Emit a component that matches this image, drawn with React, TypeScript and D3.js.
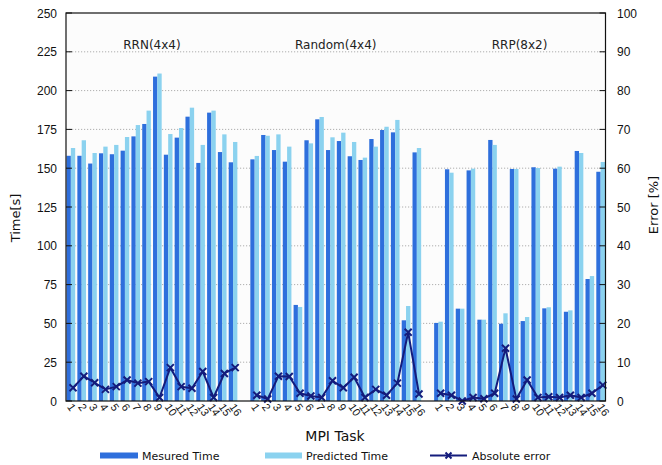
import * as d3 from 'd3';
import React from 'react';

// three mapping strategies, 16 MPI tasks each
const groups = ['RRN(4x4)', 'Random(4x4)', 'RRP(8x2)'];
const tasks = d3.range(1, 17).map(String);

const measuredRRN = [158, 158, 153, 159.6, 159, 161.3, 170.5, 178.5, 209, 158.7, 169.7, 183.2, 153.4, 185.8, 160.4, 153.8];
const predictedRRN = [163, 168, 159.8, 163.9, 165, 170.1, 177.8, 187.1, 211, 172, 175.9, 189, 165, 187.1, 171.8, 166.9];
const errorRRN = [3.4, 6.4, 4.7, 3.0, 3.7, 5.4, 4.6, 5.0, 0.9, 8.6, 3.7, 3.3, 7.6, 0.9, 7.1, 8.6];

const measuredRandom = [155.7, 171.4, 161.7, 154.2, 61.9, 168, 181.5, 161.7, 167.5, 157.7, 155.3, 168.8, 174.6, 173.1, 52, 160.2];
const predictedRandom = [157.9, 170.9, 171.8, 163.9, 60.6, 166, 183, 169.9, 172.9, 166.9, 156.8, 163.9, 176.7, 181.1, 61.2, 163];
const errorRandom = [1.5, 0.5, 6.4, 6.3, 2.0, 1.3, 0.9, 5.2, 3.4, 6.1, 0.9, 3.0, 1.5, 4.6, 17.7, 1.8];

const measuredRRP = [50.3, 149.3, 59.5, 148.6, 52.4, 168.2, 49.8, 149.5, 51.5, 150.6, 59.7, 149.7, 57.5, 161.1, 78.6, 147.7];
const predictedRRP = [51.1, 147.1, 59.5, 149.7, 52.4, 165, 56.5, 149.5, 54.1, 150.1, 60.4, 151, 58.4, 159.8, 80.5, 154];
const errorRRP = [2.0, 1.5, 0.0, 0.9, 0.6, 2.0, 13.6, 0.5, 5.4, 0.9, 1.1, 0.9, 1.5, 0.9, 2.0, 4.1];

const timeTicks = d3.range(0, 251, 25);
const errorTicks = d3.range(0, 101, 10);

const series = [
    { group: groups[0], measured: measuredRRN, predicted: predictedRRN, error: errorRRN },
    { group: groups[1], measured: measuredRandom, predicted: predictedRandom, error: errorRandom },
    { group: groups[2], measured: measuredRRP, predicted: predictedRRP, error: errorRRP },
];

const W = 662;
const H = 465;
const M = { left: 66, right: 605.5, top: 13, bottom: 401 };

const C_MEAS = '#2e6fdc';
const C_PRED = '#8bd2ef';
const C_ERR = '#141c7c';

const FONT = 'DejaVu Sans, sans-serif';
const NUM_FONT = 'Liberation Sans, Arial, sans-serif';

function Cross({ x, y, s = 3.5 }: { x: number; y: number; s?: number }) {
    return (
        <path
            d={`M${x - s},${y - s}L${x + s},${y + s}M${x - s},${y + s}L${x + s},${y - s}`}
            stroke={C_ERR}
            strokeWidth={2}
        />
    );
}

export default function App() {
    // one empty slot between the groups
    const slots: string[] = [];
    series.forEach((s, gi) => {
        if (gi > 0) slots.push(`gap-${gi}`);
        tasks.forEach((t) => slots.push(`${s.group}-${t}`));
    });

    const x = d3.scaleBand<string>().domain(slots).range([M.left, M.right]).paddingInner(0.2).paddingOuter(0.05);
    const bw = x.bandwidth() / 2;
    const yTime = d3.scaleLinear().domain([0, 250]).range([M.bottom, M.top]);
    const yErr = d3.scaleLinear().domain([0, 100]).range([M.bottom, M.top]);

    return (
        <svg width={W} height={H} style={{ position: 'absolute', left: 0, top: 0, background: '#fff' }}>
            <rect x={M.left} y={M.top} width={M.right - M.left} height={M.bottom - M.top} fill="#fcfcfc" />

            {/* grid */}
            {timeTicks.slice(1, -1).map((t) => (
                <line
                    key={t}
                    x1={M.left}
                    x2={M.right}
                    y1={yTime(t)}
                    y2={yTime(t)}
                    stroke="#9a9a9a"
                    strokeWidth={0.8}
                    strokeDasharray="1.2,1.8"
                />
            ))}

            {/* bars */}
            {series.map((s) =>
                tasks.map((t, i) => {
                    const x0 = x(`${s.group}-${t}`)!;
                    return (
                        <g key={`${s.group}-${t}`}>
                            <rect x={x0} y={yTime(s.measured[i])} width={bw} height={M.bottom - yTime(s.measured[i])} fill={C_MEAS} />
                            <rect x={x0 + bw} y={yTime(s.predicted[i])} width={bw} height={M.bottom - yTime(s.predicted[i])} fill={C_PRED} />
                        </g>
                    );
                })
            )}

            {/* error lines, one per group */}
            {series.map((s) => {
                const xs = tasks.map((t) => x(`${s.group}-${t}`)! + bw * 1.5);
                const path = d3
                    .line<number>()
                    .x((_, i) => xs[i])
                    .y((d) => yErr(d))(s.error);
                return (
                    <g key={`err-${s.group}`}>
                        <path d={path ?? ''} fill="none" stroke={C_ERR} strokeWidth={2} strokeLinejoin="round" />
                        {s.error.map((e, i) => (
                            <Cross key={i} x={xs[i]} y={yErr(e)} />
                        ))}
                    </g>
                );
            })}

            {/* group titles */}
            {series.map((s) => {
                const a = x(`${s.group}-1`)!;
                const b = x(`${s.group}-16`)! + x.bandwidth();
                return (
                    <text key={`t-${s.group}`} x={(a + b) / 2} y={49} textAnchor="middle" fontFamily={FONT} fontSize={12} fill="#222">
                        {s.group}
                    </text>
                );
            })}

            {/* frame */}
            <rect x={M.left} y={M.top} width={M.right - M.left} height={M.bottom - M.top} fill="none" stroke="#111" strokeWidth={1.2} />

            {/* left axis */}
            {timeTicks.map((t) => (
                <g key={`l-${t}`}>
                    <line x1={M.left} x2={M.left + 6} y1={yTime(t)} y2={yTime(t)} stroke="#111" />
                    <text x={57} y={yTime(t) + 4.5} textAnchor="end" fontFamily={NUM_FONT} fontSize={12} fill="#111">
                        {t}
                    </text>
                </g>
            ))}

            {/* right axis */}
            {errorTicks.map((t) => (
                <g key={`r-${t}`}>
                    <line x1={M.right - 6} x2={M.right} y1={yErr(t)} y2={yErr(t)} stroke="#111" />
                    <text x={617} y={yErr(t) + 4.5} textAnchor="start" fontFamily={NUM_FONT} fontSize={12} fill="#111">
                        {t}
                    </text>
                </g>
            ))}

            {/* x tick labels */}
            {series.map((s) =>
                tasks.map((t) => {
                    const cx = x(`${s.group}-${t}`)! + x.bandwidth() / 2 - 4;
                    return (
                        <text
                            key={`xl-${s.group}-${t}`}
                            transform={`translate(${cx},${407}) rotate(55)`}
                            fontFamily={NUM_FONT}
                            fontSize={11}
                            fill="#111"
                        >
                            {t}
                        </text>
                    );
                })
            )}

            {/* axis titles */}
            <text transform="translate(20,218) rotate(-90)" textAnchor="middle" fontFamily={FONT} fontSize={13} fill="#111">
                Time[s]
            </text>
            <text transform="translate(658,205) rotate(-90)" textAnchor="middle" fontFamily={FONT} fontSize={13} fill="#111">
                Error [%]
            </text>
            <text x={335} y={441} textAnchor="middle" fontFamily={FONT} fontSize={14} fill="#111">
                MPI Task
            </text>

            {/* legend */}
            <g fontFamily={FONT} fontSize={11} fill="#111">
                <rect x={100} y={452.5} width={38} height={6} fill={C_MEAS} />
                <text x={142} y={460}>Mesured Time</text>
                <rect x={265} y={452.5} width={37} height={6} fill={C_PRED} />
                <text x={306} y={460}>Predicted Time</text>
                <line x1={430} x2={467} y1={455.5} y2={455.5} stroke={C_ERR} strokeWidth={2} />
                <Cross x={448.5} y={455.5} s={3} />
                <text x={472} y={460}>Absolute error</text>
            </g>
        </svg>
    );
}
